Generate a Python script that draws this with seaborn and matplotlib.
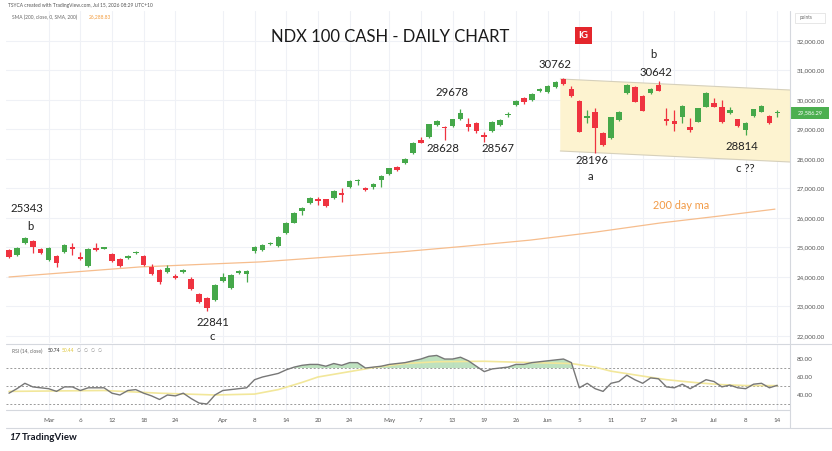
import numpy as np
import pandas as pd
import matplotlib
matplotlib.use("Agg")
import matplotlib.pyplot as plt
import seaborn as sns
from matplotlib.patches import Polygon, Rectangle
from matplotlib.lines import Line2D

sns.set_theme(style="white")
plt.rcParams['font.family'] = ['Lato', 'DejaVu Sans']

# ---------------- data ----------------
opens = [24915, 24745, 25150, 25220, 24950, 24580, 24710, 24850, 24995, 24680,
         24375, 24985, 24960, 24780, 24610, 24660, 24800, 24710, 24340, 24240,
         24170, 24035, 24170, 23930, 23420, 23290, 23220, 23865, 23630, 24135,
         24100, 24880, 24915, 25110, 25050, 25490, 25840, 26250, 26520, 26645,
         26635, 26690, 26850, 27040, 27255, 27020, 27060, 27290, 27490, 27720,
         27855, 28195, 28645, 28735, 29150, 29070, 29120, 29345, 29175, 29230,
         28815, 28960, 29150, 29480, 29830, 30060, 30000, 30320, 30260, 30450,
         30710, 30360, 29975, 29390, 29600, 28870, 28700, 29320, 30250, 30430,
         30135, 30225, 30510, 29345, 29300, 29435, 29095, 29265, 29775, 29910,
         29755, 29550, 29345, 28985, 29470, 29605, 29460, 29560]
closes = [24680, 24985, 25320, 25015, 24815, 24980, 24475, 25085, 24965, 24610,
          24950, 24915, 24995, 24545, 24375, 24690, 24830, 24410, 24100, 23830,
          24305, 23965, 24240, 23595, 23150, 22950, 23730, 24000, 24070, 24205,
          24200, 25020, 25085, 25165, 25365, 25830, 26180, 26350, 26680, 26575,
          26405, 26925, 26780, 27265, 27290, 26950, 27150, 27425, 27685, 27630,
          28000, 28555, 28555, 29175, 29290, 29040, 29345, 29570, 29075, 28960,
          28735, 29265, 29320, 29500, 29975, 29940, 30205, 30345, 30475, 30620,
          30545, 30135, 28930, 29450, 29040, 28475, 29415, 29605, 30510, 29945,
          29640, 30365, 30315, 29300, 29185, 29795, 28985, 29720, 30250, 29775,
          29265, 29660, 29120, 29210, 29685, 29795, 29210, 29586]
highs = [24950, 25020, 25343, 25260, 24980, 25000, 24730, 25110, 25150, 24850,
         24970, 25150, 25020, 24810, 24640, 24750, 24870, 24740, 24440, 24270,
         24410, 24100, 24280, 23990, 23450, 23320, 23760, 24135, 24100, 24240,
         24230, 25050, 25110, 25190, 25390, 25860, 26210, 26380, 26700, 26720,
         26660, 26950, 27015, 27290, 27320, 27050, 27180, 27450, 27710, 27760,
         28030, 28580, 28755, 29200, 29320, 29130, 29370, 29678, 29390, 29260,
         28925, 29290, 29350, 29600, 30000, 30090, 30230, 30400, 30500, 30650,
         30762, 30475, 30000, 29660, 29730, 28900, 29440, 29630, 30540, 30460,
         30160, 30390, 30642, 29730, 29660, 29820, 29380, 29740, 30275, 30070,
         30000, 29775, 29370, 29240, 29710, 29820, 29490, 29660]
lows = [24640, 24700, 25120, 24810, 24790, 24550, 24340, 24830, 24745, 24590,
        24330, 24890, 24940, 24520, 24350, 24600, 24780, 24380, 24070, 23760,
        24140, 23940, 24140, 23560, 23120, 22841, 23180, 23830, 23600, 24100,
        23830, 24810, 24890, 25090, 25020, 25470, 25820, 26100, 26490, 26440,
        26380, 26660, 26550, 27010, 27120, 26920, 26985, 27050, 27460, 27600,
        27830, 28170, 28530, 28710, 29130, 28628, 29080, 29320, 28960, 28890,
        28567, 28930, 29120, 29415, 29800, 29865, 29970, 30280, 30230, 30420,
        30520, 30110, 28900, 29220, 28196, 28440, 28670, 29290, 30220, 29920,
        29610, 30200, 30290, 29150, 28960, 29230, 28925, 29240, 29750, 29750,
        29220, 29525, 29090, 28814, 29440, 29580, 29180, 29440]
rsi = [42, 47, 53, 49, 48, 47, 44, 49, 49, 45,
       48, 48, 48, 42, 40, 45, 46, 42, 39, 35,
       40, 39, 42, 36, 31, 30, 40, 45, 46, 47,
       48, 57, 60, 62, 64, 68, 71, 73, 74, 74,
       72, 75, 73, 76, 76, 70, 71, 72, 74, 75,
       76, 78, 80, 83, 84, 80, 80, 82, 78, 72,
       66, 69, 70, 71, 74, 74, 76, 77, 78, 79,
       80, 76, 48, 53, 47, 44, 53, 55, 62, 57,
       53, 59, 58, 49, 48, 52, 47, 52, 57, 55,
       49, 51, 48, 47, 52, 53, 48, 50.74]
rsi_ma_idx = [0, 12, 19, 26, 31, 34, 37, 39, 43, 46, 50, 54, 60, 66, 71, 74, 76, 80, 83, 87, 90, 93, 97]
rsi_ma_val = [44, 45, 42, 40, 41, 46, 54, 60, 66, 70.5, 75, 77, 77.5, 76, 75, 71, 66.5, 61, 57, 53.5, 51.5, 50.5, 50.4]
sma_idx = [0, 16.5, 31.7, 49.4, 57.5, 65.8, 74.0, 82.2, 89.5, 96.7]
sma_val = [24000, 24340, 24510, 24850, 25040, 25250, 25520, 25830, 26060, 26300]

tick_idx = [5, 9, 13, 17, 21, 27, 31, 35, 39, 43, 48, 52, 56, 60, 64, 68, 72, 76, 80, 84, 89, 93, 97]
tick_labels = ["Mar", "6", "12", "18", "24", "Apr", "8", "14", "20", "24", "May", "7", "13", "19", "26",
               "Jun", "5", "11", "17", "24", "Jul", "8", "14"]
price_ticks = [22000, 23000, 24000, 25000, 26000, 27000, 28000, 29000, 30000, 31000, 32000]
rsi_ticks = [80, 60, 40]

channel_idx = [69.6, 98.6]
channel_top = [30712, 30339]
channel_bot = [28271, 27898]

last_price = 29586.29

# ---------------- figure ----------------
W, H = 832, 451
fig = plt.figure(figsize=(W / 100, H / 100), dpi=100)
fig.patch.set_facecolor('white')


def fx(x):
    return x / W


def fy(y):
    return 1 - y / H


def axes_px(l, t, r, b):
    return fig.add_axes([fx(l), fy(b), (r - l) / W, (b - t) / H])


GREEN = '#45a84a'
RED = '#ef3340'
GRID = '#eff1f6'

ax = axes_px(6, 11, 790, 343)
axr = axes_px(6, 345, 790, 410)

n = len(opens)
df = pd.DataFrame(dict(i=np.arange(n), open=opens, high=highs, low=lows, close=closes, rsi=rsi))

for a in (ax, axr):
    a.set_xlim(-0.38, 98.6)
    a.set_facecolor('white')
    for s in a.spines.values():
        s.set_visible(False)
    for t in tick_idx:
        a.axvline(t, color=GRID, lw=0.8, zorder=0)

ax.set_ylim(21762, 33017)
for p in price_ticks:
    ax.axhline(p, color=GRID, lw=0.8, zorder=0)

# channel
poly = Polygon([(channel_idx[0], channel_top[0]), (channel_idx[1], channel_top[1]),
                (channel_idx[1], channel_bot[1]), (channel_idx[0], channel_bot[0])],
               closed=True, facecolor='#fdf3d0', edgecolor='none', zorder=1)
ax.add_patch(poly)
ax.plot(channel_idx, channel_top, color='#d6d0bb', lw=0.8, zorder=1.5)
ax.plot(channel_idx, channel_bot, color='#d6d0bb', lw=0.8, zorder=1.5)

# 200 day SMA
sns.lineplot(x=sma_idx, y=sma_val, ax=ax, color='#f6bd8d', lw=0.9, zorder=2, legend=False)

# candles
up = df['close'] >= df['open']
cols = np.where(up, GREEN, RED)
ax.vlines(df['i'], df['low'], df['high'], colors=cols, lw=0.9, zorder=3)
body_bottom = np.minimum(df['open'], df['close'])
body_h = np.maximum(np.abs(df['close'] - df['open']), 40)
ax.bar(df['i'], body_h, bottom=body_bottom, width=0.7, color=cols, linewidth=0, zorder=4)

ax.set_xticks([])
ax.yaxis.tick_right()
ax.set_yticks(price_ticks)
ax.set_yticklabels([f"{p:,.2f}" for p in price_ticks])
ax.tick_params(axis='y', length=0, pad=5, labelsize=4.5, labelcolor='#555555')
ax.set_xlabel('')
ax.set_ylabel('')

# RSI pane
axr.set_ylim(23.3, 95.6)
rsi_arr = np.array(rsi, dtype=float)
axr.fill_between(df['i'], rsi_arr, 70, where=rsi_arr > 70, interpolate=True,
                 color='#a8d8aa', alpha=0.75, lw=0, zorder=1)
for lvl in (70, 50, 30):
    axr.axhline(lvl, color='#9a9a9a', lw=0.7, ls=(0, (2, 2)), zorder=1)
sns.lineplot(x=rsi_ma_idx, y=rsi_ma_val, ax=axr, color='#f2e79a', lw=1.2, zorder=2, legend=False)
sns.lineplot(x=df['i'], y=rsi_arr, ax=axr, color='#777777', lw=1.0, zorder=3, legend=False)
axr.yaxis.tick_right()
axr.set_yticks(rsi_ticks)
axr.set_yticklabels([f"{v:.2f}" for v in rsi_ticks])
axr.tick_params(axis='y', length=0, pad=5, labelsize=4.5, labelcolor='#555555')
axr.set_xticks(tick_idx)
axr.set_xticklabels(tick_labels)
axr.tick_params(axis='x', length=0, pad=6, labelsize=4.5, labelcolor='#555555')
axr.set_xlabel('')
axr.set_ylabel('')

# frame lines
for (x0, y0, x1, y1) in [(6, 344, 832, 344), (6, 410, 790, 410), (790, 11, 790, 428), (6, 428, 832, 428)]:
    fig.add_artist(Line2D([fx(x0), fx(x1)], [fy(y0), fy(y1)], color='#d5d8de', lw=0.8))

# current price tag
fig.add_artist(Rectangle((fx(791), fy(119)), 38 / W, 12 / H, transform=fig.transFigure,
                         facecolor='#4caf50', edgecolor='none'))
fig.text(fx(810), fy(113), f"{last_price:,.2f}", color='white', fontsize=4, ha='center', va='center')

# header texts
fig.text(fx(8), fy(5), "TSYCA created with TradingView.com, Jul 15, 2026 08:29 UTC+10",
         fontsize=3.5, color='#555555', va='center')
fig.text(fx(12), fy(17), "SMA (200, close, 0, SMA, 200)", fontsize=3.5, color='#666666', va='center')
fig.text(fx(89), fy(17), "26,288.83", fontsize=3.5, color='#f39c3d', va='center')
fig.text(fx(12), fy(351), "RSI (14, close)", fontsize=3.5, color='#666666', va='center')
fig.text(fx(48), fy(351), "50.74", fontsize=3.5, color='#333333', va='center')
fig.text(fx(62), fy(351), "50.44", fontsize=3.5, color='#e0c840', va='center')
fig.text(fx(77), fy(351), "\u2205  \u2205  \u2205  \u2205", fontsize=3.3, color='#888888', va='center',
         family=['DejaVu Sans'])
fig.add_artist(Rectangle((fx(795), fy(23)), 30 / W, 10 / H, transform=fig.transFigure,
                         facecolor='white', edgecolor='#dddddd', lw=0.5))
fig.text(fx(800), fy(18), "points", fontsize=3.3, color='#666666', va='center')

# title and IG logo
fig.text(fx(390), fy(37), "NDX 100 CASH - DAILY CHART", fontsize=12, color='#1a1a1a',
         ha='center', va='center')
fig.add_artist(Rectangle((fx(575), fy(44)), 17 / W, 17 / H, transform=fig.transFigure,
                         facecolor='#e4262c', edgecolor='none'))
fig.text(fx(583.5), fy(35.5), "IG", fontsize=7, color='white', ha='center', va='center', weight='bold')

# annotations
ann = [("25343", 27, 209), ("b", 30, 226), ("22841", 213, 322), ("c", 212, 337),
       ("29678", 452, 92), ("28628", 443, 149), ("28567", 498, 149),
       ("30762", 555, 65), ("b", 653, 55), ("30642", 656, 72),
       ("28196", 592, 160), ("a", 590, 177), ("28814", 742, 146), ("c ??", 745, 168)]
for txt, x, y in ann:
    fig.text(fx(x), fy(y), txt, fontsize=8.2, color='#222222', ha='center', va='center')
fig.text(fx(681), fy(205), "200 day ma", fontsize=7.8, color='#f29a45', ha='center', va='center')

# TradingView logo
fig.text(fx(9), fy(437), "17", fontsize=7, color='#131722', weight='bold', va='center', style='italic')
fig.text(fx(22), fy(437), "TradingView", fontsize=7, color='#131722', weight='bold', va='center')

fig.savefig("out.png", dpi=100, facecolor='white')
